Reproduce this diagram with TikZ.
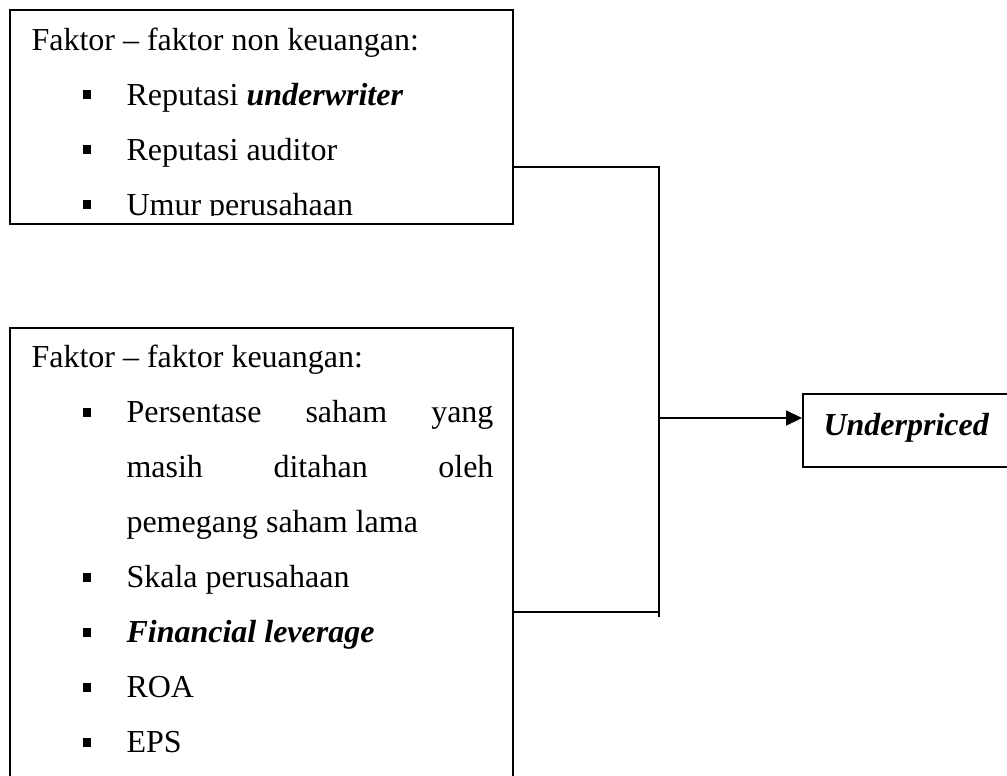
\documentclass[tikz,border=0pt]{standalone}
\usepackage{fontspec}
\setmainfont{Liberation Serif}
\usepackage{tikz}
\usetikzlibrary{positioning}
\usetikzlibrary{calc}
\usetikzlibrary{fit}
\usetikzlibrary{arrows.meta}
\newcommand{\blt}{\rule[2.2pt]{3.3pt}{3.3pt}\hspace{13.2pt}}

\begin{document}
\begin{tikzpicture}
[
x=0.375pt, y=-0.375pt,
box/.style={rectangle, draw=black, line width=0.7pt, inner sep=0pt},
txt/.style={anchor=base west, inner sep=0pt, font=\fontsize{12pt}{14pt}\selectfont},
wire/.style={draw=black, line width=0.7pt},
arr/.style={wire, -{Triangle[length=6pt,width=5.6pt]}}
]
\useasboundingbox (0,0) rectangle (1007,775);
\clip (0,0) rectangle (1007,775);

\node[box, fit={(10,10) (513,224)}] (nonkeu) {};
\node[box, fit={(10,328) (513,800)}] (keu) {};
\node[box, fit={(803,394) (1030,467)}] (under) {};

\node[txt] (h1) at (31,50) {Faktor -- faktor non keuangan:};
\node[txt] (a1) at (82,105) {\blt Reputasi \textbf{\textit{underwriter}}};
\node[txt] (a2) at (82,160) {\blt Reputasi auditor};
\begin{scope}
\clip (0,0) rectangle (1007,215.5);
\node[txt] (a3) at (82,215) {\blt Umur perusahaan};
\end{scope}

\node[txt] (h2) at (31,367.5) {Faktor -- faktor keuangan:};
\node[txt] (b1) at (82,422.5) {\blt\makebox[137.6pt][s]{Persentase saham yang}};
\node[txt] (b1a) at (126,477.5) {\makebox[137.6pt][s]{masih ditahan oleh}};
\node[txt] (b1b) at (126,532.5) {pemegang saham lama};
\node[txt] (b2) at (82,587.5) {\blt Skala perusahaan};
\node[txt] (b3) at (82,642.5) {\blt\textbf{\textit{Financial leverage}}};
\node[txt] (b4) at (82,697.5) {\blt ROA};
\node[txt] (b5) at (82,752.5) {\blt EPS};

\node[txt] (u) at (823,435) {\textbf{\textit{Underpriced}}};

\coordinate (top) at (659,167);
\coordinate (mid) at (659,418);
\coordinate (bot) at (659,612);

\draw[wire] (nonkeu.east |- top) -- (top) -- ([yshift=-2pt]bot);
\draw[wire] (keu.east |- bot) -- (bot);
\draw[arr] (mid) -- (under.west |- mid);
\end{tikzpicture}
\end{document}
